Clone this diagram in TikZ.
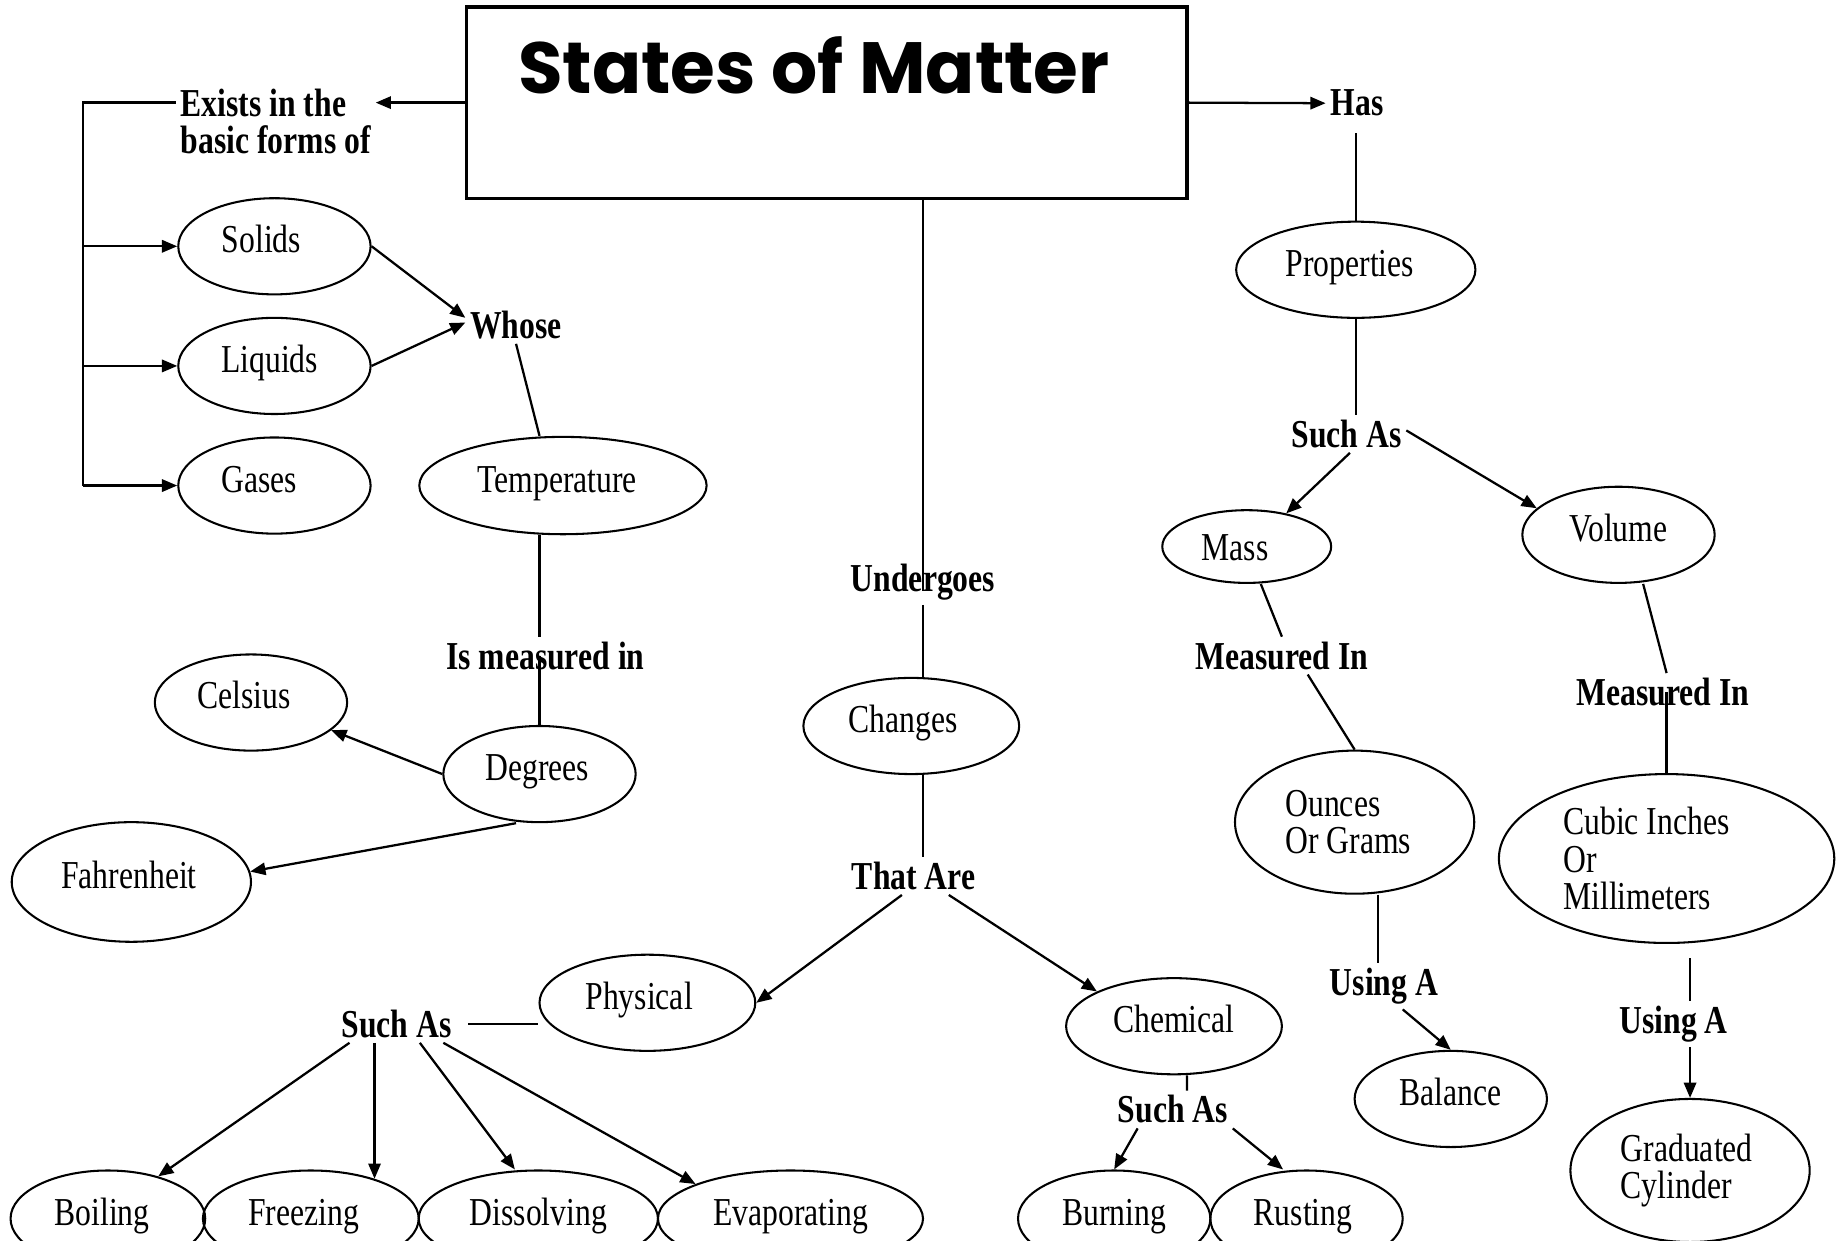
\documentclass[tikz,border=0pt]{standalone}
\usepackage{fontspec}
\setmainfont[FakeStretch=0.8]{Liberation Serif}
\newfontfamily\titlefont{Poppins}
\usetikzlibrary{arrows.meta, shapes.geometric}

\begin{document}
\begin{tikzpicture}[x=0.1mm, y=-0.1mm, >={Triangle[length=1.3mm, width=1.05mm]},
	concept/.style={ellipse, draw, line width=0.5pt, inner sep=0pt, text height=2.6mm, text depth=1.5mm,
		font=\fontsize{9.6}{9}\selectfont},
	multiline/.style={ellipse, draw, line width=0.5pt, inner sep=0pt, align=flush left,
		font=\fontsize{9.6}{9}\selectfont},
	nudge/.style={execute at begin node={\hspace*{-#1}}},
	linkword/.style={inner sep=1pt, align=left, font=\fontsize{9.6}{9}\selectfont\bfseries},
	conn/.style={line width=0.55pt}]
		\useasboundingbox (0,0) rectangle (1568,1058);

		% top box and the title
		\node [draw, line width=0.8pt, minimum width=61.4mm, minimum height=16.3mm, inner sep=0pt] (matter) at (705,87.5) {};
		\node [anchor=base, inner sep=0pt, font=\titlefont\bfseries\fontsize{17.6}{18}\selectfont] (title) at (694,80) {States of Matter};

		% left branch: the three forms
		\node [linkword, anchor=north west] (exists) at (150,72) {Exists in the\\basic forms of};
		\node [concept, nudge=2.2mm, minimum width=16.4mm, minimum height=8.2mm] (solids) at (234,210) {Solids};
		\node [concept, nudge=0.8mm, minimum width=16.4mm, minimum height=8.2mm] (liquids) at (234,312) {Liquids};
		\node [concept, nudge=2.6mm, minimum width=16.4mm, minimum height=8.2mm] (gases) at (234,414) {Gases};
		\coordinate (rail) at (71,87.5);

		\draw[conn, ->] (matter.west) -- (matter.west -| exists.east);
		\draw[conn] (exists.west |- matter.west) -- (rail) -- (rail |- gases.west);
		\foreach \form in {solids, liquids, gases}
			\draw[conn, ->] (rail |- \form.west) -- (\form.west);

		% temperature and degrees
		\node [linkword] (whose) at (440,277) {Whose};
		\node [concept, nudge=1mm, minimum width=24.5mm, minimum height=8.3mm] (temperature) at (480,414) {Temperature};
		\node [linkword] (measured) at (465,559) {Is measured in};
		\node [concept, nudge=0.4mm, minimum width=16.4mm, minimum height=8.2mm] (degrees) at (460,660) {Degrees};
		\node [concept, nudge=1.2mm, minimum width=16.4mm, minimum height=8.2mm] (celsius) at (214,599) {Celsius};
		\node [concept, nudge=0.4mm, minimum width=20.4mm, minimum height=10.2mm] (fahrenheit) at (112,752) {Fahrenheit};

		\draw[conn, ->] (solids.east) -- ([yshift=0.6mm]whose.west);
		\draw[conn, ->] (liquids.east) -- ([yshift=0.2mm]whose.west);
		\draw[conn] (whose.south) -- ([xshift=-2mm]temperature.north);
		\draw[conn] (degrees.north |- temperature.south) -- (degrees.north |- measured.north);
		\draw[conn] (degrees.north |- measured.center) -- (degrees.north);
		\draw[conn, ->] (degrees.west) -- (celsius.-19);
		\draw[conn, ->] ([xshift=-2mm]degrees.south) -- (fahrenheit.5);

		% middle branch: changes
		\node [linkword] (undergoes) at (787,496) {Undergoes};
		\node [concept, nudge=1.4mm, minimum width=18.4mm, minimum height=8.2mm] (changes) at (777,619) {Changes};
		\node [linkword] (thatare) at (779,747) {That Are};
		\node [concept, nudge=1.4mm, minimum width=18.4mm, minimum height=8.2mm] (physical) at (552,855) {Physical};
		\node [concept, minimum width=18.4mm, minimum height=8.2mm] (chemical) at (1001,875) {Chemical};

		\draw[conn] (matter.south -| undergoes) -- ([yshift=-0.8mm]undergoes.center);
		\draw[conn] (undergoes.south) -- (undergoes.south |- changes.north);
		\draw[conn] (changes.south -| undergoes) -- (thatare.north -| undergoes);
		\draw[conn, ->] ([xshift=-1mm]thatare.south) -- (physical.east);
		\draw[conn, ->] ([xshift=3mm]thatare.south) -- (chemical.north west);

		% physical changes
		\node [linkword] (suchphys) at (338,873) {Such As};
		\node [concept, nudge=1mm, minimum width=16.6mm, minimum height=8.2mm] (boiling) at (92,1039) {Boiling};
		\node [concept, nudge=1.2mm, minimum width=18.4mm, minimum height=8.2mm] (freezing) at (265,1039) {Freezing};
		\node [concept, minimum width=20.4mm, minimum height=8.2mm] (dissolving) at (459,1039) {Dissolving};
		\node [concept, minimum width=22.6mm, minimum height=8.2mm] (evaporating) at (674,1039) {Evaporating};

		\draw[conn] ([xshift=1mm]suchphys.east) -- (physical.west |- suchphys.east);
		\draw[conn, ->] ([xshift=-4mm]suchphys.south) -- (boiling.40);
		\draw[conn, ->] (suchphys.south -| freezing.32) -- (freezing.32);
		\draw[conn, ->] ([xshift=2mm]suchphys.south) -- ([xshift=-2mm]dissolving.north);
		\draw[conn, ->] ([xshift=4mm]suchphys.south) -- (evaporating.160);

		% chemical changes
		\node [linkword] (suchchem) at (1000,946) {Such As};
		\node [concept, minimum width=16.4mm, minimum height=8.2mm] (burning) at (950,1039) {Burning};
		\node [concept, nudge=0.6mm, minimum width=16.4mm, minimum height=8.2mm] (rusting) at (1114,1039) {Rusting};

		\draw[conn] ([xshift=1.1mm]chemical.south) -- ([xshift=1.2mm]suchchem.north);
		\draw[conn, ->] ([xshift=-3mm]suchchem.south) -- (burning.north);
		\draw[conn, ->] (suchchem.south east) -- ([xshift=-2mm]rusting.north);

		% right branch: properties
		\node [linkword] (has) at (1157,88) {Has};
		\node [concept, nudge=1mm, minimum width=20.4mm, minimum height=8.2mm] (properties) at (1156,230) {Properties};
		\node [linkword] (suchprop) at (1148,370) {Such As};
		\node [concept, nudge=2mm, text height=2.3mm, text depth=0mm, minimum width=14.4mm, minimum height=6.2mm] (mass) at (1063,466) {Mass};
		\node [concept, minimum width=16.4mm, minimum height=8.2mm] (volume) at (1380,456) {Volume};

		\draw[conn, ->] (matter.east) -- (has.west);
		\draw[conn] ([yshift=-1mm]properties.north |- has.south) -- (properties.north);
		\draw[conn] (properties.south) -- (properties.south |- suchprop.north);
		\draw[conn, ->] ([xshift=0.3mm]suchprop.south) -- (mass.40);
		\draw[conn, ->] ([yshift=0.3mm]suchprop.east) -- (volume.162);

		% mass side
		\node [linkword] (measmass) at (1093,559) {Measured In};
		\node [multiline, text width=11.8mm, minimum width=20.4mm, minimum height=12.2mm] (ounces) at (1155,701) {Ounces\\Or Grams};
		\node [linkword] (usingbal) at (1180,841) {Using A};
		\node [concept, minimum width=16.4mm, minimum height=8.2mm] (balance) at (1237,937) {Balance};

		\draw[conn] ([xshift=1.2mm]mass.south) -- (measmass.north);
		\draw[conn] ([xshift=2.2mm]measmass.south) -- (ounces.north);
		\draw[conn] ([xshift=2mm]ounces.south) -- ([xshift=2mm]ounces.south |- usingbal.north);
		\draw[conn, ->] ([xshift=1.6mm]usingbal.south) -- (balance.north);

		% volume side
		\node [linkword] (measvol) at (1418,590) {Measured In};
		\node [multiline, text width=17.6mm, minimum width=28.6mm, minimum height=14.4mm] (cubic) at (1421,732) {Cubic Inches\\Or\\Millimeters};
		\node [linkword] (usingcyl) at (1427,873) {Using A};
		\node [multiline, text width=11.8mm, minimum width=20.4mm, minimum height=12.2mm] (graduated) at (1441,998) {Graduated\\Cylinder};

		\draw[conn] ([xshift=2.1mm]volume.south) -- ([xshift=0.3mm]measvol.north);
		\draw[conn] (cubic.north |- measvol.center) -- (cubic.north);
		\draw[conn] ([xshift=2mm, yshift=-1.2mm]cubic.south) -- ([xshift=2mm]cubic.south |- usingcyl.north);
		\draw[conn, ->] (graduated.north |- usingcyl.south) -- (graduated.north);
	\end{tikzpicture}
\end{document}
